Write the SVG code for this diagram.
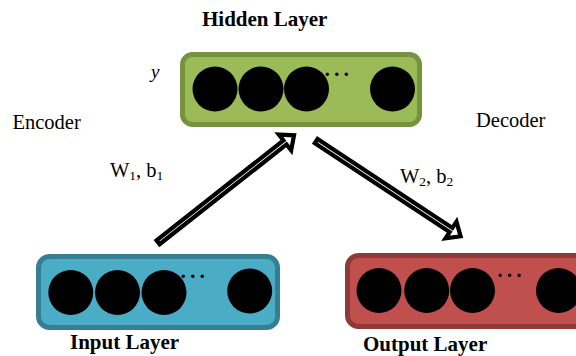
<svg xmlns="http://www.w3.org/2000/svg" width="576" height="356" viewBox="0 0 576 356">
<style>
.bold{font-family:"Liberation Serif","Times New Roman",serif;font-weight:bold;font-size:21px;fill:#000}
.reg{font-family:"Liberation Serif","Times New Roman",serif;font-size:20.5px;fill:#000}
.sub{font-size:13.5px}
.dots{font-family:"Liberation Serif","Times New Roman",serif;font-weight:bold;font-size:20px;letter-spacing:4.5px;fill:#000}
.box{stroke-width:5}
.n{fill:#000}
.arrow{fill:#fff;stroke:#000;stroke-width:4.2;stroke-linejoin:miter;stroke-miterlimit:10}
</style>
<defs>
<polygon id="arr" class="arrow" points="2,-2.5 163.5,-2.5 163.5,-10 175,0 163.5,10 163.5,2.5 2,2.5"/>
</defs>
<rect width="576" height="356" fill="#fff"/>

<g id="hidden">
<text class="bold" x="202" y="26">Hidden Layer</text>
<text x="151" y="77.5" style="font-family:'Liberation Serif','Times New Roman',serif;font-style:italic;font-size:19px">y</text>
<rect class="box" x="182.5" y="54.5" width="237" height="70" rx="10" fill="#9bbb59" stroke="#76923c"/>
<circle class="n" cx="215" cy="89" r="22.5"/>
<circle class="n" cx="261" cy="89" r="22.5"/>
<circle class="n" cx="306.5" cy="89" r="22.5"/>
<circle class="n" cx="392.5" cy="89" r="22.5"/>
<text class="dots" x="324.8" y="75.5">...</text>
</g>

<g id="input">
<rect class="box" x="38.5" y="256.5" width="239" height="71" rx="11" fill="#4bacc6" stroke="#367f93"/>
<circle class="n" cx="70.8" cy="292.5" r="22.5"/>
<circle class="n" cx="117.5" cy="292.5" r="22.5"/>
<circle class="n" cx="164" cy="292.5" r="22.5"/>
<circle class="n" cx="249.7" cy="291" r="22.5"/>
<text class="dots" x="180.8" y="277.5">...</text>
<text class="bold" x="70" y="349">Input Layer</text>
</g>

<g id="output">
<rect class="box" x="347.5" y="255.5" width="260" height="71" rx="11" fill="#c0504d" stroke="#8f3a37"/>
<circle class="n" cx="379" cy="290.5" r="22.5"/>
<circle class="n" cx="426.7" cy="290.5" r="22.5"/>
<circle class="n" cx="472.5" cy="290.5" r="22.5"/>
<circle class="n" cx="558.5" cy="290.5" r="22.5"/>
<text class="dots" x="497.5" y="276.5">...</text>
<text class="bold" x="363" y="350.5">Output Layer</text>
</g>

<g id="encoder-label">
<text class="reg" x="12.5" y="129.3">Encoder</text>
</g>
<g id="decoder-label">
<text class="reg" x="476" y="127.3">Decoder</text>
</g>

<g id="connectors">
<use href="#arr" transform="translate(156.5,243.5) rotate(-38.2)"/>
<use href="#arr" transform="translate(314.5,140) rotate(33.4)"/>
<text class="reg" x="110" y="177">W<tspan class="sub" dy="3">1</tspan><tspan dy="-3">, b</tspan><tspan class="sub" dy="3">1</tspan></text>
<text class="reg" x="400" y="182.7">W<tspan class="sub" dy="3">2</tspan><tspan dy="-3">, b</tspan><tspan class="sub" dy="3">2</tspan></text>
</g>
</svg>
